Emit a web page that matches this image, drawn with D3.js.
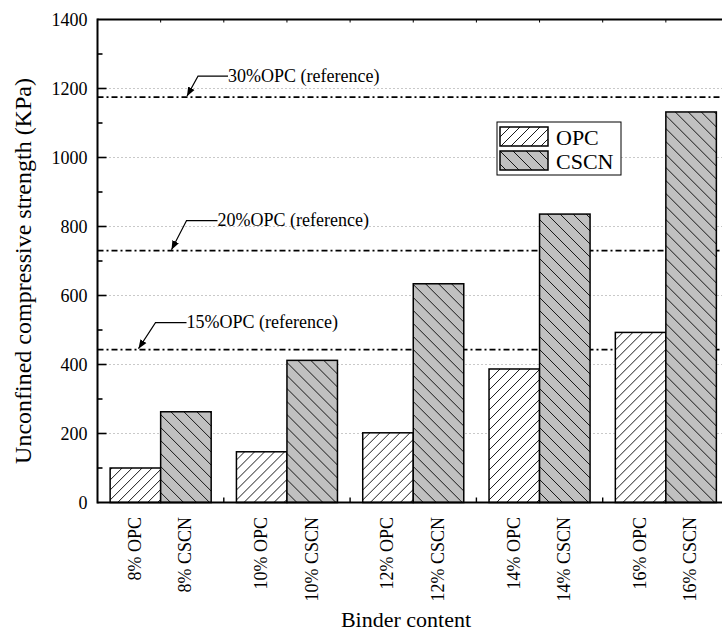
<!DOCTYPE html>
<html>
<head>
<meta charset="utf-8">
<script src="https://cdnjs.cloudflare.com/ajax/libs/d3/7.8.5/d3.min.js"></script>
<style>
  body { margin: 0; background: #fff; }
</style>
</head>
<body>
<div id="chart"></div>
<script>
// binder contents (groups along x)
var groups = ["8%", "10%", "12%", "14%", "16%"];
var series = ["OPC", "CSCN"];
// unconfined compressive strength, KPa
var opcValues = [100, 147, 202, 387, 493];
var cscnValues = [263, 412, 634, 836, 1132];
// reference levels (OPC at higher dosage)
var refNames = ["30%OPC (reference)", "20%OPC (reference)", "15%OPC (reference)"];
var refValues = [1175, 730, 443];
var yTicks = [0, 200, 400, 600, 800, 1000, 1200, 1400];

var FONT = "'Liberation Serif', 'Times New Roman', Times, serif";
var W = 722, H = 633;
var svg = d3.select("#chart").append("svg")
  .attr("width", W)
  .attr("height", H)
  .style("font-family", FONT);

var pLeft = 97.5, pRight = 729, pTop = 19.5, pBottom = 502.5;

var x = d3.scaleBand().domain(groups).range([pLeft, pRight])
  .paddingInner(0.2).paddingOuter(0.1);
var xs = d3.scaleBand().domain(series).range([0, x.bandwidth()]);
var y = d3.scaleLinear().domain([0, 1400]).range([pBottom, pTop]);

/* hatch patterns */
var defs = svg.append("defs");
var p1 = defs.append("pattern").attr("id", "hatchOPC")
  .attr("patternUnits", "userSpaceOnUse")
  .attr("width", 10).attr("height", 10);
p1.append("rect").attr("width", 10).attr("height", 10).attr("fill", "#fff");
p1.append("path").attr("d", "M-1,1 l2,-2 M0,10 l10,-10 M9,11 l2,-2")
  .attr("stroke", "#000").attr("stroke-width", 0.9);

var p2 = defs.append("pattern").attr("id", "hatchCSCN")
  .attr("patternUnits", "userSpaceOnUse")
  .attr("width", 13).attr("height", 13);
p2.append("rect").attr("width", 13).attr("height", 13).attr("fill", "#c0c0c0");
p2.append("path").attr("d", "M-1,12 l2,2 M0,0 l13,13 M12,-1 l2,2")
  .attr("stroke", "#000").attr("stroke-width", 0.9);

var fills = { OPC: "url(#hatchOPC)", CSCN: "url(#hatchCSCN)" };

/* dotted grid */
svg.append("g").selectAll("line")
  .data(yTicks.filter(function(d){ return d > 0 && d < 1400; }))
  .enter().append("line")
  .attr("x1", pLeft).attr("x2", pRight)
  .attr("y1", function(d){ return y(d); })
  .attr("y2", function(d){ return y(d); })
  .attr("stroke", "#777")
  .attr("stroke-width", 0.8)
  .attr("stroke-dasharray", "1,3");

/* reference lines */
svg.append("g").selectAll("line")
  .data(refValues)
  .enter().append("line")
  .attr("x1", pLeft).attr("x2", pRight)
  .attr("y1", function(d){ return y(d); })
  .attr("y2", function(d){ return y(d); })
  .attr("stroke", "#000")
  .attr("stroke-width", 1.8)
  .attr("stroke-dasharray", "6,3,2,3");

/* bars */
var rows = groups.map(function(g, i) {
  return [{ g: g, s: "OPC", v: opcValues[i] }, { g: g, s: "CSCN", v: cscnValues[i] }];
});
var bars = svg.append("g").selectAll("g")
  .data(rows).enter().append("g")
  .attr("transform", function(d){ return "translate(" + x(d[0].g) + ",0)"; });
bars.selectAll("rect")
  .data(function(d){ return d; })
  .enter().append("rect")
  .attr("x", function(d){ return xs(d.s); })
  .attr("y", function(d){ return y(d.v); })
  .attr("width", xs.bandwidth())
  .attr("height", function(d){ return y(0) - y(d.v); })
  .attr("fill", function(d){ return fills[d.s]; })
  .attr("stroke", "#000")
  .attr("stroke-width", 1.5);

/* annotations with arrows */
defs.append("marker").attr("id", "arrow")
  .attr("viewBox", "0 0 10 10").attr("refX", 10).attr("refY", 5)
  .attr("markerWidth", 9).attr("markerHeight", 9)
  .attr("markerUnits", "userSpaceOnUse")
  .attr("orient", "auto")
  .append("path").attr("d", "M0,1 L10,5 L0,9 z").attr("fill", "#000");

var annLayout = [
  { tipX: 187, dx: 11, dy: -21, run: 30 },
  { tipX: 171.5, dx: 15, dy: -30, run: 31 },
  { tipX: 138.5, dx: 17, dy: -27, run: 31 }
];
var ann = svg.append("g").selectAll("g")
  .data(refValues).enter().append("g");
ann.append("path")
  .attr("d", function(d, i) {
    var a = annLayout[i], ty = y(d);
    return "M" + (a.tipX + a.dx + a.run) + "," + (ty + a.dy) +
      " H" + (a.tipX + a.dx) + " L" + a.tipX + "," + (ty - 1);
  })
  .attr("fill", "none")
  .attr("stroke", "#000")
  .attr("stroke-width", 1.1)
  .attr("marker-end", "url(#arrow)");
ann.append("text")
  .attr("x", function(d, i){ var a = annLayout[i]; return a.tipX + a.dx + a.run; })
  .attr("y", function(d, i){ return y(d) + annLayout[i].dy; })
  .attr("dy", "0.32em")
  .style("font-family", FONT)
  .attr("font-size", 18)
  .text(function(d, i){ return refNames[i]; });

/* axes */
var yAxis = d3.axisLeft(y).tickValues(yTicks).tickSize(0).tickPadding(10)
  .tickFormat(d3.format("d"));
var gy = svg.append("g").attr("transform", "translate(" + pLeft + ",0)").call(yAxis);
gy.attr("font-family", null).attr("font-size", null);
gy.select(".domain").remove();
gy.selectAll("text").attr("font-size", 18).attr("fill", "#000").style("font-family", FONT);

// inward ticks on the left axis
var minor = d3.range(100, 1400, 100);
svg.append("g").selectAll("line")
  .data(minor).enter().append("line")
  .attr("x1", pLeft)
  .attr("x2", function(d){ return pLeft + (d % 200 === 0 ? 9 : 5); })
  .attr("y1", function(d){ return y(d); })
  .attr("y2", function(d){ return y(d); })
  .attr("stroke", "#000").attr("stroke-width", 1.6);

// inward ticks on the bottom axis between groups, and on the top axis
var between = groups.slice(1).map(function(g){ return x(g) - x.step() * x.paddingInner() / 2; });
svg.append("g").selectAll("line")
  .data(between).enter().append("line")
  .attr("x1", function(d){ return d; }).attr("x2", function(d){ return d; })
  .attr("y1", pBottom).attr("y2", pBottom - 5)
  .attr("stroke", "#000").attr("stroke-width", 1.4);
var topTicks = between.concat(groups.map(function(g){ return x(g) + x.bandwidth() / 2; }));
svg.append("g").selectAll("line")
  .data(topTicks).enter().append("line")
  .attr("x1", function(d){ return d; }).attr("x2", function(d){ return d; })
  .attr("y1", pTop).attr("y2", pTop + 3)
  .attr("stroke", "#000").attr("stroke-width", 1);

// frame lines
svg.append("line").attr("x1", pLeft).attr("x2", pRight).attr("y1", pBottom).attr("y2", pBottom)
  .attr("stroke", "#000").attr("stroke-width", 2.2);
svg.append("line").attr("x1", pLeft).attr("x2", pRight).attr("y1", pTop).attr("y2", pTop)
  .attr("stroke", "#000").attr("stroke-width", 2);
svg.append("line").attr("x1", pLeft).attr("x2", pLeft).attr("y1", pTop - 1).attr("y2", pBottom + 1)
  .attr("stroke", "#000").attr("stroke-width", 2);

/* rotated bar labels */
svg.append("g").selectAll("text")
  .data(d3.merge(rows)).enter().append("text")
  .attr("transform", function(d) {
    var cx = x(d.g) + xs(d.s) + xs.bandwidth() / 2 - 1;
    return "translate(" + cx + ",517) rotate(-90)";
  })
  .attr("text-anchor", "end")
  .attr("dy", "0.35em")
  .style("font-family", FONT)
  .attr("font-size", 18)
  .text(function(d){ return d.g + " " + d.s; });

/* axis titles */
svg.append("text")
  .attr("x", 406).attr("y", 627)
  .attr("text-anchor", "middle")
  .style("font-family", FONT)
  .attr("font-size", 22)
  .text("Binder content");
svg.append("text")
  .attr("transform", "translate(31,271) rotate(-90)")
  .attr("text-anchor", "middle")
  .style("font-family", FONT)
  .attr("font-size", 24)
  .text("Unconfined compressive strength (KPa)");

/* legend */
var lg = svg.append("g").attr("transform", "translate(497,122)");
lg.append("rect").attr("width", 124).attr("height", 53)
  .attr("fill", "#fff").attr("stroke", "#000").attr("stroke-width", 1);
var li = lg.selectAll("g.item").data(series).enter().append("g")
  .attr("class", "item")
  .attr("transform", function(d, i){ return "translate(3," + (5 + i * 24) + ")"; });
li.append("rect").attr("width", 48).attr("height", 19)
  .attr("fill", function(d){ return fills[d]; })
  .attr("stroke", "#000").attr("stroke-width", 1.5);
li.append("text").attr("x", 56).attr("y", 10).attr("dy", "0.35em")
  .style("font-family", FONT)
  .attr("font-size", 22)
  .text(function(d){ return d; });
</script>
</body>
</html>
